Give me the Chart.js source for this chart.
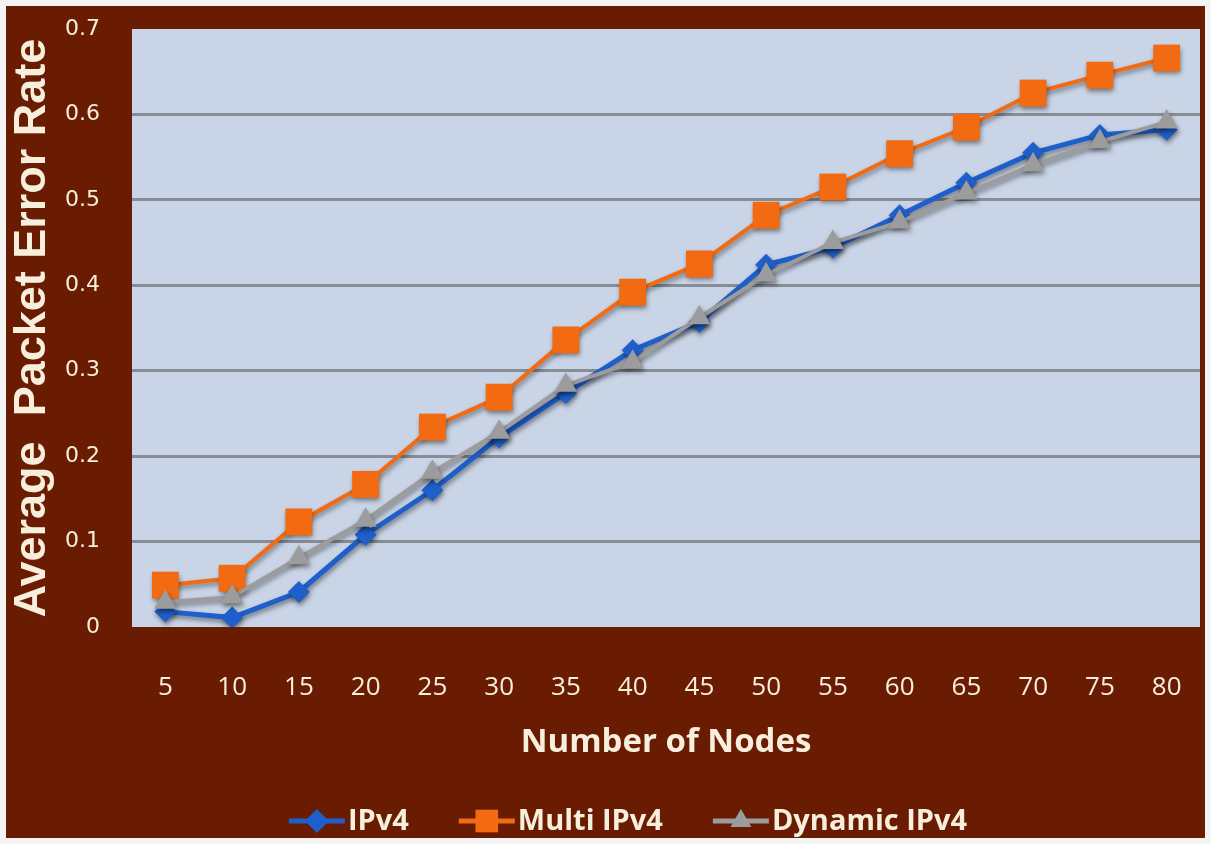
<!DOCTYPE html>
<html>
<head>
<meta charset="utf-8">
<script src="https://cdn.jsdelivr.net/npm/chart.js@4.4.0/dist/chart.umd.min.js"></script>
<style>
  html, body { margin: 0; padding: 0; background: #f4f4f4; overflow: hidden; }
  #wrap { position: absolute; left: 6px; top: 6px; width: 1199px; height: 832px; background: #6a1c02; }
  #chart { display: block; }
</style>
</head>
<body>
<div id="wrap"><canvas id="chart" width="1199" height="832"></canvas></div>
<script>
'use strict';

// Number of Nodes
const nodes = ['5', '10', '15', '20', '25', '30', '35', '40', '45', '50', '55', '60', '65', '70', '75', '80'];

// Average packet error rate
const ipv4      = [0.018, 0.011, 0.041, 0.108, 0.160, 0.222, 0.274, 0.324, 0.357, 0.424, 0.444, 0.482, 0.520, 0.555, 0.576, 0.582];
const multiIpv4 = [0.049, 0.057, 0.123, 0.167, 0.234, 0.269, 0.336, 0.392, 0.425, 0.482, 0.515, 0.554, 0.585, 0.625, 0.646, 0.666];
const dynIpv4   = [0.029, 0.035, 0.081, 0.125, 0.181, 0.228, 0.283, 0.310, 0.362, 0.412, 0.450, 0.474, 0.508, 0.541, 0.568, 0.591];

const yTicks = [0, 0.1, 0.2, 0.3, 0.4, 0.5, 0.6, 0.7];

const TEXT   = '#f7efdc';
const PLOTBG = '#c9d5e7';
const GRID   = '#878c96';
const CLEAR  = 'rgba(0,0,0,0)';

// plot area background
const plotBg = {
  id: 'plotBg',
  beforeDraw(chart) {
    const { ctx, chartArea: a } = chart;
    ctx.save();
    ctx.fillStyle = PLOTBG;
    ctx.fillRect(a.left, a.top, a.right - a.left, a.bottom - a.top);
    ctx.restore();
  },
};

// soft drop shadow under lines and markers
const shadow = {
  id: 'shadow',
  beforeDatasetsDraw(chart) {
    const ctx = chart.ctx;
    ctx.save();
    ctx.shadowColor = 'rgba(0,0,0,0.45)';
    ctx.shadowBlur = 5;
    ctx.shadowOffsetX = 1;
    ctx.shadowOffsetY = 3;
  },
  afterDatasetsDraw(chart) {
    chart.ctx.restore();
  },
};

function drawMarker(ctx, style, x, y, r) {
  ctx.beginPath();
  if (style === 'rectRot') {
    ctx.moveTo(x, y - r); ctx.lineTo(x + r, y); ctx.lineTo(x, y + r); ctx.lineTo(x - r, y);
  } else if (style === 'rect') {
    const s = r * Math.SQRT1_2;
    ctx.rect(x - s, y - s, 2 * s, 2 * s);
  } else {
    ctx.moveTo(x, y - r); ctx.lineTo(x + r * 0.87, y + r * 0.5); ctx.lineTo(x - r * 0.87, y + r * 0.5);
  }
  ctx.closePath();
  ctx.fill();
}

// legend drawn as line + marker, like the original
const lineLegend = {
  id: 'lineLegend',
  afterDraw(chart) {
    const { ctx } = chart;
    const sets = chart.data.datasets;
    ctx.save();
    ctx.font = 'bold 29px "Open Sans", sans-serif';
    ctx.textBaseline = 'middle';
    const symW = 56, gapT = 3, gapI = 50;
    const widths = sets.map(d => symW + gapT + ctx.measureText(d.label).width);
    const total = widths.reduce((a, b) => a + b, 0) + gapI * (sets.length - 1);
    let x = 622 - total / 2;
    const y = 815;
    sets.forEach((d, i) => {
      ctx.strokeStyle = d.borderColor;
      ctx.fillStyle = d.borderColor;
      ctx.lineWidth = 5;
      ctx.beginPath();
      ctx.moveTo(x, y); ctx.lineTo(x + symW, y);
      ctx.stroke();
      drawMarker(ctx, d.pointStyle, x + symW / 2, y, d.pointStyle === 'rect' ? 16 : 12);
      ctx.fillStyle = TEXT;
      ctx.fillText(d.label, x + symW + gapT, y + 1);
      x += widths[i] + gapI;
    });
    ctx.restore();
  },
};

new Chart(document.getElementById('chart'), {
  type: 'line',
  data: {
    labels: nodes,
    datasets: [
      {
        label: 'IPv4',
        data: ipv4,
        borderColor: '#1f5fcb',
        backgroundColor: '#1f5fcb',
        borderWidth: 5,
        pointStyle: 'rectRot',
        pointRadius: 11,
        pointBorderWidth: 0,
        tension: 0,
        order: 2,
      },
      {
        label: 'Multi IPv4',
        data: multiIpv4,
        borderColor: '#f26b12',
        backgroundColor: '#f26b12',
        borderWidth: 4,
        pointStyle: 'rect',
        pointRadius: 19,
        pointBorderWidth: 0,
        tension: 0,
        order: 1,
      },
      {
        label: 'Dynamic IPv4',
        data: dynIpv4,
        borderColor: '#9c9c9c',
        backgroundColor: '#9c9c9c',
        borderWidth: 4,
        pointStyle: 'triangle',
        pointRadius: 13,
        pointBorderWidth: 0,
        tension: 0,
        order: 0,
      },
    ],
  },
  options: {
    responsive: false,
    animation: false,
    devicePixelRatio: 1,
    layout: { autoPadding: false, padding: { top: 23, right: 5, left: 0, bottom: 0 } },
    plugins: {
      legend: { display: false },
      tooltip: { enabled: false },
    },
    scales: {
      x: {
        type: 'category',
        offset: true,
        grid: { display: true, drawOnChartArea: false, drawTicks: true, tickLength: 45, color: CLEAR, tickColor: CLEAR },
        border: { display: false },
        ticks: {
          color: TEXT,
          padding: 0,
          maxRotation: 0,
          autoSkip: false,
          font: { family: '"Open Sans", sans-serif', size: 26 },
        },
        title: {
          display: true,
          text: 'Number of Nodes',
          color: TEXT,
          padding: { top: 0, bottom: 76 },
          font: { family: '"Open Sans", sans-serif', size: 33, weight: 'bold' },
        },
        afterFit: s => { s.height = 211; s.paddingLeft = 0; s.paddingRight = 0; },
      },
      y: {
        min: 0,
        max: 0.7,
        afterBuildTicks: s => { s.ticks = yTicks.map(v => ({ value: v })); },
        grid: {
          drawTicks: true,
          tickLength: 32,
          tickColor: CLEAR,
          lineWidth: 3,
          color: c => (c.tick && (c.tick.value === 0 || c.tick.value === 0.7)) ? CLEAR : GRID,
        },
        border: { display: false },
        ticks: {
          color: TEXT,
          padding: 0,
          font: { family: '"DejaVu Sans", sans-serif', size: 22 },
          callback: v => (v === 0 ? '0' : v.toFixed(1)),
        },
        title: {
          display: true,
          text: 'Average  Packet Error Rate',
          color: TEXT,
          padding: { top: 0, bottom: 0 },
          font: { family: '"Liberation Sans", "DejaVu Sans", sans-serif', size: 45, weight: 'bold' },
        },
        afterFit: s => { s.width = 126; },
      },
    },
  },
  plugins: [plotBg, shadow, lineLegend],
});
</script>
</body>
</html>
